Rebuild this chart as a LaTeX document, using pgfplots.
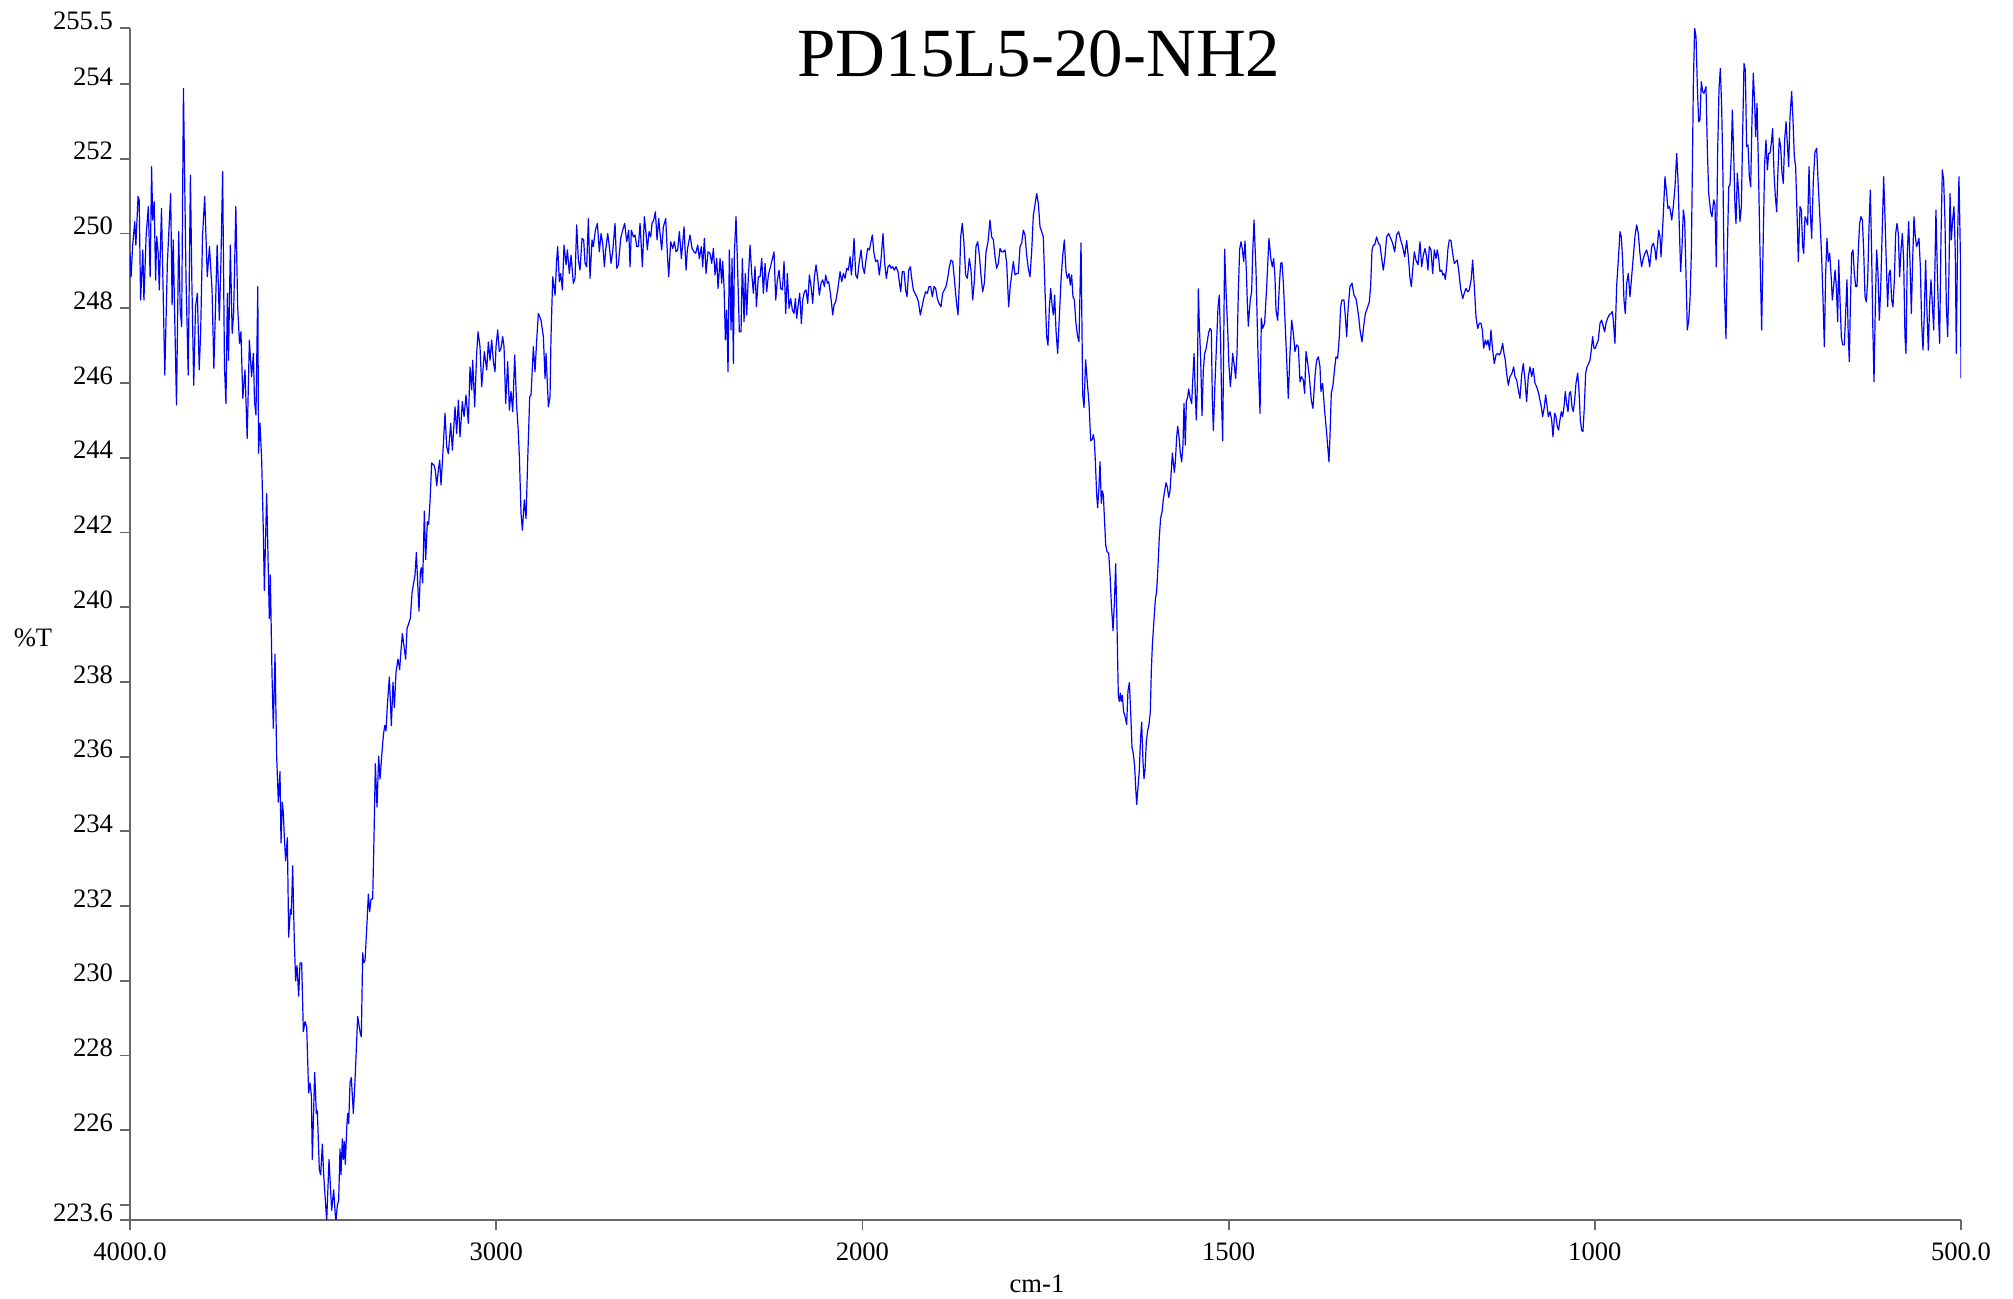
\documentclass[border=0pt]{standalone}
\usepackage{pgfplots}
\pgfplotsset{compat=1.18}
\usepackage{pgfplotstable}
\usepackage{fontspec}
\setmainfont{Liberation Serif}
\definecolor{axgray}{RGB}{105,105,105}

\pgfplotstableread[row sep=\\]{
wn T \\
4000 249.47 \\ 3997 248.84 \\ 3993 249.65 \\ 3987 250.32 \\ 3984 249.69 \\ 3978 250.99 \\ 3975 250.90 \\ 3971 248.22 \\ 3965 249.56 \\ 3962 248.22 \\
3956 249.92 \\ 3950 250.72 \\ 3945 248.84 \\ 3941 251.79 \\ 3938 250.36 \\ 3934 250.85 \\ 3930 248.75 \\ 3927 249.92 \\ 3923 249.47 \\ 3920 248.49 \\
3914 250.67 \\ 3905 246.21 \\ 3898 249.20 \\ 3889 251.07 \\ 3885 248.09 \\ 3882 249.83 \\ 3878 247.82 \\ 3873 245.41 \\ 3867 250.05 \\ 3863 247.99 \\
3859 247.51 \\ 3854 253.88 \\ 3847 248.75 \\ 3841 246.21 \\ 3835 251.56 \\ 3831 248.66 \\ 3826 245.94 \\ 3821 248.04 \\ 3816 248.40 \\ 3811 246.35 \\
3807 247.37 \\ 3802 249.92 \\ 3796 250.99 \\ 3789 248.84 \\ 3783 249.65 \\ 3776 248.49 \\ 3771 246.39 \\ 3762 249.69 \\ 3756 247.68 \\ 3752 249.11 \\
3747 251.66 \\ 3742 246.43 \\ 3738 245.45 \\ 3734 248.40 \\ 3731 246.61 \\ 3726 249.69 \\ 3721 247.33 \\ 3717 247.86 \\ 3711 250.72 \\ 3706 248.04 \\
3701 247.06 \\ 3697 247.37 \\ 3692 245.59 \\ 3686 246.35 \\ 3680 244.52 \\ 3674 247.15 \\ 3668 246.17 \\ 3663 246.79 \\ 3660 245.50 \\ 3656 245.14 \\
3651 248.58 \\ 3649 244.12 \\ 3645 244.92 \\
3640.4 243.93 \\ 3635.9 242.02 \\ 3633.1 240.45 \\ 3626.8 243.04 \\ 3619.5 239.70 \\ 3616.8 240.86 \\ 3612.2 238.20 \\ 3608.6 236.76 \\ 3604.0 238.74 \\ 3599.5 236.01 \\
3594.9 234.78 \\ 3590.4 235.60 \\ 3587.6 233.69 \\ 3584.0 234.78 \\ 3581.3 234.51 \\ 3578.5 233.83 \\ 3574.9 233.21 \\ 3570.3 233.83 \\ 3566.7 231.17 \\ 3562.1 231.91 \\
3559.4 231.78 \\ 3555.8 233.08 \\ 3551.2 231.03 \\ 3547.6 230.00 \\ 3543.9 230.41 \\ 3539.4 229.59 \\ 3535.7 230.48 \\ 3531.2 230.48 \\ 3526.6 228.64 \\ 3522.1 228.91 \\
3517.5 228.77 \\ 3512.1 227.00 \\ 3508.4 227.27 \\ 3504.8 226.93 \\ 3502.1 225.22 \\ 3495.7 227.55 \\ 3491.1 226.45 \\ 3488.4 226.52 \\ 3483.0 224.95 \\ 3479.3 224.81 \\
3474.7 225.63 \\ 3471.1 224.81 \\ 3466.6 224.13 \\ 3462.9 223.58 \\ 3456.5 225.22 \\ 3452.9 224.54 \\ 3449.3 223.86 \\ 3443.8 224.41 \\ 3439.3 223.72 \\ 3437.4 223.58 \\
3433.8 223.99 \\ 3430.2 224.13 \\ 3426.5 225.50 \\ 3423.8 224.81 \\ 3420.1 225.77 \\ 3417.4 225.22 \\ 3414.7 225.70 \\ 3412.0 225.09 \\ 3408.3 226.04 \\ 3405.6 226.45 \\
3402.8 226.18 \\ 3399.2 227.27 \\ 3395.6 227.41 \\ 3390.1 226.45 \\ 3384.6 227.54 \\ 3378.3 229.05 \\ 3371.9 228.64 \\ 3368.3 228.50 \\ 3364.6 230.75 \\ 3361.9 230.48 \\
3358.2 230.55 \\ 3353.7 231.37 \\ 3349.1 232.32 \\ 3345.5 231.85 \\ 3341.8 232.19 \\ 3337.3 232.19 \\ 3333.7 233.83 \\ 3330.0 235.81 \\ 3325.5 234.65 \\ 3320.9 236.01 \\
3317.3 235.40 \\ 3312.7 236.01 \\ 3308.2 236.56 \\ 3304.5 236.83 \\ 3300.9 236.69 \\ 3297.2 237.38 \\ 3291.8 238.13 \\ 3286.3 236.83 \\ 3281.8 237.99 \\ 3278.1 237.31 \\
3273.6 238.26 \\ 3268.1 238.61 \\ 3263.6 238.33 \\ 3260.8 238.74 \\ 3256.3 239.29 \\ 3251.7 238.95 \\ 3247.2 238.61 \\ 3243.5 239.43 \\ 3239.0 239.56 \\ 3234.4 239.70 \\
3229.9 240.38 \\ 3225.3 240.65 \\ 3221.7 240.86 \\ 3218.0 241.47 \\ 3214.4 240.65 \\ 3210.8 239.90 \\ 3207.1 240.93 \\ 3204.4 241.06 \\ 3200.8 240.65 \\ 3196.2 242.57 \\
3192.6 241.27 \\ 3188.0 242.29 \\ 3184.4 242.22 \\ 3180.7 242.84 \\ 3176.2 243.86 \\ 3169.8 243.80 \\ 3166.2 243.66 \\ 3162.5 243.25 \\ 3158.0 243.66 \\ 3154.3 243.93 \\
3150.7 243.27 \\ 3146.1 244.03 \\ 3139.7 245.19 \\ 3135.2 244.29 \\ 3130.6 244.11 \\ 3124.3 244.92 \\ 3119.7 244.20 \\ 3112.4 245.36 \\ 3107.9 244.65 \\ 3103.3 245.54 \\
3098.8 244.56 \\ 3092.4 245.50 \\ 3087.8 245.10 \\ 3082.4 245.68 \\ 3076.0 244.92 \\ 3071.5 246.43 \\ 3066.9 245.81 \\ 3064.2 246.61 \\ 3058.7 245.36 \\ 3053.3 246.79 \\
3049.6 247.37 \\ 3044.2 246.97 \\ 3039.6 245.90 \\ 3032.3 246.84 \\ 3025.9 246.35 \\ 3021.4 247.10 \\ 3016.8 246.61 \\ 3012.3 247.15 \\ 3007.7 246.57 \\ 3003.2 246.30 \\
3000.5 246.97 \\ 2995.9 247.42 \\ 2991.4 246.84 \\ 2986.8 246.93 \\ 2982.3 247.24 \\ 2978.6 246.97 \\ 2974.1 245.45 \\ 2968.6 246.57 \\ 2964.0 245.27 \\ 2959.5 245.77 \\
2954.9 245.23 \\ 2949.5 246.75 \\ 2944.0 245.36 \\ 2940.4 244.83 \\ 2936.7 244.03 \\ 2932.2 242.51 \\ 2928.5 242.06 \\ 2923.1 242.87 \\ 2918.5 242.37 \\ 2914.0 243.94 \\
2908.5 245.63 \\ 2904.9 245.68 \\ 2898.5 246.97 \\ 2894.0 246.30 \\ 2889.4 247.15 \\ 2884.9 247.86 \\ 2877.6 247.68 \\ 2871.2 247.24 \\ 2866.6 246.12 \\ 2863.9 246.79 \\
2857.5 245.36 \\ 2853.0 245.63 \\ 2850.3 247.24 \\ 2845.7 248.84 \\ 2839.3 248.35 \\ 2834.8 249.29 \\ 2832.1 249.65 \\ 2827.5 248.71 \\ 2823.9 248.93 \\ 2819.3 248.49 \\
2814.8 249.69 \\ 2809.3 249.16 \\ 2805.6 249.56 \\ 2800.2 248.93 \\ 2795.6 249.42 \\ 2789.3 248.67 \\ 2784.7 248.80 \\ 2780.2 250.23 \\ 2775.6 249.29 \\ 2771.1 249.02 \\
2765.6 249.87 \\ 2761.1 249.83 \\ 2757.4 249.20 \\ 2752.9 249.11 \\ 2748.3 250.40 \\ 2743.8 248.80 \\ 2738.3 249.83 \\ 2734.7 249.65 \\ 2729.2 250.09 \\ 2723.7 250.27 \\
2718.3 249.51 \\ 2713.7 250.00 \\ 2709.2 249.74 \\ 2704.6 249.11 \\ 2701.0 249.56 \\ 2695.5 250.00 \\ 2691.0 249.65 \\ 2686.4 249.20 \\ 2681.9 249.51 \\ 2675.5 250.27 \\
2670.9 249.07 \\ 2666.4 249.16 \\ 2660.0 249.87 \\ 2654.6 250.09 \\ 2649.1 250.27 \\ 2643.6 249.78 \\ 2638.2 250.09 \\ 2634.5 249.11 \\ 2630.9 250.09 \\ 2625.4 249.91 \\
2620.9 249.96 \\ 2616.3 249.65 \\ 2611.8 249.65 \\ 2607.2 250.27 \\ 2600.8 249.11 \\ 2595.4 250.45 \\ 2590.8 250.00 \\ 2587.2 249.56 \\ 2582.6 250.05 \\ 2578.1 249.91 \\
2574.4 250.27 \\ 2569.9 250.36 \\ 2565.3 250.58 \\ 2560.8 249.83 \\ 2556.2 250.40 \\ 2552.6 250.00 \\ 2548.1 249.56 \\ 2543.5 250.18 \\ 2537.1 250.40 \\ 2532.6 249.47 \\
2528.9 248.84 \\ 2523.5 249.78 \\ 2518.0 249.60 \\ 2513.5 249.78 \\ 2508.9 249.51 \\ 2504.4 249.56 \\ 2499.8 250.05 \\ 2494.3 249.33 \\ 2490.7 249.74 \\ 2487.1 250.18 \\
2481.6 249.02 \\ 2478.0 249.56 \\ 2470.7 249.96 \\ 2465.2 249.60 \\ 2459.7 249.51 \\ 2455.2 249.47 \\ 2449.7 249.69 \\ 2445.2 249.33 \\ 2439.7 249.65 \\ 2436.1 249.11 \\
2431.5 249.87 \\ 2427.0 248.93 \\ 2421.5 249.51 \\ 2416.0 249.47 \\ 2411.5 249.20 \\ 2406.9 249.60 \\ 2402.4 248.89 \\ 2397.8 249.33 \\ 2394.2 248.53 \\ 2388.7 249.33 \\
2384.2 248.67 \\ 2381.5 249.25 \\ 2377.8 248.59 \\ 2374.2 247.15 \\ 2370.5 247.95 \\ 2366.9 246.30 \\ 2363.3 249.56 \\ 2358.7 247.42 \\ 2356.0 249.33 \\ 2352.3 246.52 \\
2349.6 249.47 \\ 2345.1 250.45 \\ 2341.4 249.29 \\ 2336.0 247.37 \\ 2331.4 247.37 \\ 2327.8 249.33 \\ 2323.2 247.64 \\ 2319.6 248.93 \\ 2316.0 247.82 \\ 2311.4 248.84 \\
2306.8 249.69 \\ 2302.3 248.93 \\ 2297.7 248.40 \\ 2293.2 249.11 \\ 2289.5 248.04 \\ 2284.1 248.84 \\ 2279.5 248.84 \\ 2274.9 249.33 \\ 2270.4 248.40 \\ 2265.8 249.20 \\
2261.3 248.44 \\ 2256.7 248.89 \\
2247.6 249.25 \\ 2241.3 249.51 \\ 2236.7 248.22 \\ 2232.2 248.75 \\ 2227.6 249.02 \\ 2223.1 248.53 \\ 2218.5 248.49 \\ 2214.0 249.25 \\ 2209.4 247.86 \\ 2204.9 248.93 \\
2200.3 248.00 \\ 2195.8 248.26 \\ 2191.2 247.95 \\ 2186.7 247.86 \\ 2183.0 248.26 \\ 2179.4 247.73 \\ 2174.8 248.13 \\ 2171.2 248.40 \\ 2166.6 247.59 \\ 2163.0 248.22 \\
2158.4 248.44 \\ 2153.9 248.49 \\ 2149.3 248.13 \\ 2144.8 248.89 \\ 2140.2 248.58 \\ 2135.7 248.13 \\ 2131.1 248.84 \\ 2126.6 249.16 \\ 2122.0 248.80 \\ 2117.5 248.35 \\
2112.9 248.67 \\ 2108.4 248.76 \\ 2103.8 248.58 \\ 2100.2 248.89 \\ 2095.6 248.67 \\ 2092.0 248.71 \\ 2087.4 248.40 \\ 2083.8 248.09 \\ 2081.1 247.82 \\ 2077.4 248.09 \\
2072.9 248.18 \\ 2067.4 248.49 \\ 2061.0 248.98 \\ 2056.5 248.71 \\ 2051.9 248.93 \\ 2047.4 248.80 \\ 2042.8 249.07 \\ 2038.3 249.02 \\ 2033.7 249.38 \\ 2030.1 248.89 \\
2026.4 249.29 \\ 2022.8 249.87 \\ 2018.2 248.89 \\ 2013.7 248.80 \\ 2009.1 249.20 \\ 2003.7 249.56 \\ 1999.6 249.11 \\ 1997.3 248.93 \\ 1995.1 249.29 \\ 1992.8 249.60 \\
1990.5 249.56 \\ 1988.3 249.78 \\ 1986.4 249.96 \\ 1984.2 249.47 \\ 1981.9 249.25 \\ 1979.2 249.29 \\ 1976.9 248.89 \\ 1974.6 249.29 \\ 1971.9 250.00 \\ 1969.6 249.20 \\
1967.3 248.80 \\ 1965.0 249.11 \\ 1962.8 249.16 \\ 1960.9 249.07 \\ 1958.7 249.11 \\ 1956.4 249.02 \\ 1954.1 249.11 \\ 1951.4 248.98 \\ 1949.6 248.71 \\ 1947.7 248.44 \\
1945.5 248.98 \\ 1943.2 248.98 \\ 1940.9 248.49 \\ 1939.1 248.31 \\ 1936.8 249.02 \\ 1934.5 249.11 \\ 1932.7 248.80 \\ 1930.4 248.49 \\ 1928.2 248.40 \\ 1925.9 248.31 \\
1923.6 248.18 \\ 1920.9 247.82 \\ 1918.6 248.04 \\ 1916.3 248.26 \\ 1913.6 248.44 \\ 1911.3 248.40 \\ 1909.1 248.58 \\ 1906.8 248.58 \\ 1904.5 248.31 \\ 1902.2 248.58 \\
1900.0 248.53 \\ 1897.7 248.26 \\ 1895.4 248.13 \\ 1892.7 248.04 \\ 1890.4 248.40 \\ 1888.1 248.49 \\ 1885.9 248.58 \\ 1883.6 248.80 \\ 1881.3 249.11 \\ 1879.0 249.29 \\
1876.7 249.25 \\ 1874.5 248.80 \\ 1871.7 248.18 \\ 1869.5 247.82 \\ 1867.6 248.67 \\ 1865.8 249.91 \\ 1863.6 250.27 \\ 1861.3 249.74 \\ 1859.0 248.89 \\ 1856.7 248.80 \\
1854.0 249.33 \\ 1851.7 249.02 \\ 1849.4 248.22 \\ 1847.2 248.71 \\ 1844.9 249.65 \\ 1842.6 249.78 \\ 1840.3 249.42 \\ 1838.1 248.89 \\ 1835.8 248.44 \\ 1833.5 248.67 \\
1831.2 249.51 \\ 1828.5 249.78 \\ 1825.8 250.36 \\ 1823.5 249.91 \\ 1821.2 249.83 \\ 1818.9 249.38 \\ 1816.7 249.07 \\ 1814.4 249.20 \\ 1812.1 249.60 \\ 1809.9 249.51 \\
1807.6 249.51 \\ 1805.3 249.56 \\ 1803.0 249.20 \\ 1800.3 248.04 \\ 1798.0 248.62 \\ 1796.2 248.89 \\ 1793.9 249.25 \\ 1791.6 248.89 \\ 1789.4 248.93 \\ 1787.1 248.93 \\
1784.8 249.65 \\ 1782.5 249.74 \\ 1780.3 250.09 \\ 1778.0 249.96 \\ 1775.7 249.42 \\ 1773.5 249.07 \\ 1771.2 248.84 \\ 1768.9 249.51 \\ 1766.6 250.49 \\ 1764.4 250.76 \\
1762.1 251.07 \\ 1759.8 250.81 \\ 1757.5 250.18 \\ 1755.2 250.05 \\ 1753.0 249.91 \\ 1750.7 248.49 \\ 1748.4 247.24 \\ 1746.6 247.01 \\ 1744.8 248.00 \\ 1742.9 248.53 \\
1741.1 248.09 \\ 1739.3 247.82 \\ 1737.5 248.35 \\ 1735.7 247.42 \\ 1733.4 246.79 \\ 1731.1 247.77 \\ 1728.8 248.76 \\ 1726.6 249.38 \\ 1724.3 249.83 \\ 1722.0 248.98 \\
1720.2 248.80 \\ 1717.9 248.93 \\ 1716.1 248.62 \\ 1714.3 248.89 \\ 1712.5 248.31 \\ 1710.6 248.22 \\ 1708.4 247.59 \\ 1706.1 247.24 \\ 1704.3 247.11 \\
1701.5 249.75 \\ 1699.2 245.68 \\ 1697.4 245.34 \\ 1695.2 246.62 \\ 1692.9 246.01 \\ 1690.6 245.45 \\ 1688.3 244.45 \\ 1686.0 244.50 \\ 1684.7 244.62 \\ 1683.3 244.45 \\
1681.9 243.89 \\ 1680.1 243.00 \\ 1678.8 242.66 \\ 1677.0 243.22 \\ 1675.6 243.89 \\ 1673.8 242.78 \\ 1672.4 243.11 \\ 1671.0 243.00 \\ 1669.7 242.44 \\ 1667.8 241.66 \\
1666.0 241.49 \\ 1663.7 241.44 \\ 1661.9 240.88 \\ 1660.1 240.10 \\ 1657.8 239.37 \\ 1656.0 240.10 \\ 1654.2 241.16 \\ 1652.4 239.54 \\ 1650.6 237.64 \\ 1649.2 237.48 \\
1647.8 237.70 \\ 1646.5 237.48 \\ 1645.1 237.64 \\ 1643.3 237.20 \\ 1641.5 237.09 \\ 1639.2 236.86 \\ 1637.4 237.76 \\ 1635.5 237.98 \\ 1633.7 237.20 \\ 1631.9 236.25 \\
1630.1 236.08 \\ 1628.3 235.75 \\ 1626.9 235.19 \\ 1625.5 234.72 \\ 1623.7 235.19 \\ 1621.9 235.64 \\ 1620.1 236.53 \\ 1618.7 236.92 \\ 1616.9 235.86 \\ 1615.5 235.41 \\
1614.1 235.64 \\ 1612.3 236.42 \\ 1610.5 236.70 \\ 1608.7 236.86 \\ 1606.9 237.20 \\ 1605.5 238.31 \\ 1604.1 238.98 \\ 1602.3 239.54 \\ 1600.0 240.21 \\ 1598.2 240.43 \\
1596.4 241.10 \\ 1594.6 241.88 \\ 1592.8 242.39 \\ 1590.9 242.55 \\ 1589.1 242.89 \\ 1587.3 243.11 \\ 1585.5 243.33 \\ 1583.7 243.22 \\ 1581.8 242.94 \\ 1580.0 243.11 \\
1578.2 243.67 \\ 1576.8 244.12 \\ 1575.5 243.89 \\ 1574.1 243.61 \\ 1572.7 243.89 \\ 1570.9 244.56 \\ 1569.5 244.84 \\ 1567.7 244.56 \\ 1565.9 244.12 \\ 1564.1 243.89 \\
1562.3 244.34 \\ 1560.9 245.45 \\ 1559.1 244.34 \\ 1557.7 245.51 \\ 1555.9 245.62 \\ 1554.5 245.84 \\ 1552.7 245.62 \\ 1550.4 245.45 \\ 1548.6 246.23 \\ 1547.2 246.79 \\
1545.4 245.68 \\ 1544.1 245.01 \\ 1542.7 245.90 \\ 1541.3 248.52 \\ 1540.0 247.57 \\ 1538.2 246.68 \\ 1536.3 245.12 \\ 1534.5 246.35 \\ 1532.7 246.79 \\ 1530.9 246.90 \\
1529.0 247.13 \\ 1527.2 247.35 \\ 1525.4 247.46 \\ 1523.6 247.40 \\ 1522.2 245.56 \\ 1520.8 244.73 \\ 1518.6 246.01 \\ 1516.3 247.13 \\ 1514.5 248.02 \\ 1512.7 248.35 \\
1510.8 247.01 \\ 1509.5 245.45 \\ 1508.1 244.45 \\ 1506.7 247.01 \\ 1505.4 249.58 \\ 1503.5 248.46 \\ 1501.3 247.46 \\ 1499.5 246.46 \\ 1497.6 245.90 \\ 1495.8 246.35 \\
1494.5 246.79 \\ 1492.2 246.46 \\ 1490.4 246.12 \\ 1488.5 246.79 \\ 1486.7 248.46 \\ 1484.9 249.58 \\ 1483.1 249.78 \\ 1481.3 249.58 \\ 1479.4 249.25 \\ 1477.6 249.80 \\
1475.8 249.02 \\ 1474.4 248.13 \\ 1473.1 247.52 \\ 1471.7 247.91 \\ 1470.3 248.24 \\ 1468.5 248.46 \\ 1467.1 249.47 \\ 1465.3 250.36 \\
1462.6 249.02 \\ 1459.9 246.79 \\ 1457.1 245.19 \\ 1455.3 247.73 \\ 1453.5 247.46 \\ 1450.8 247.60 \\ 1448.0 248.58 \\ 1444.9 249.87 \\ 1442.1 249.29 \\ 1440.3 249.11 \\
1438.5 249.33 \\ 1436.7 248.84 \\ 1435.3 247.95 \\ 1433.0 247.68 \\ 1430.8 248.58 \\ 1428.9 249.20 \\ 1427.1 249.22 \\ 1425.3 248.71 \\ 1423.0 247.68 \\ 1420.7 246.61 \\
1418.5 245.59 \\ 1416.2 246.79 \\ 1413.9 247.68 \\ 1411.6 247.33 \\ 1409.4 246.84 \\ 1407.1 247.02 \\ 1404.8 246.97 \\ 1402.5 246.03 \\ 1400.3 246.17 \\ 1398.0 246.08 \\
1396.2 245.72 \\ 1394.3 246.84 \\ 1392.5 246.61 \\ 1389.8 246.17 \\ 1387.1 245.54 \\ 1384.8 245.32 \\ 1382.1 246.17 \\ 1379.8 246.61 \\ 1377.5 246.70 \\ 1375.2 246.43 \\
1373.9 245.77 \\ 1371.6 245.99 \\ 1369.3 245.36 \\ 1366.1 244.65 \\ 1363.0 243.89 \\ 1361.6 244.56 \\ 1359.8 245.72 \\ 1357.5 245.94 \\ 1355.2 246.39 \\ 1353.4 246.70 \\
1351.1 246.66 \\ 1348.8 247.24 \\ 1347.0 248.04 \\ 1345.2 248.22 \\ 1342.5 248.22 \\ 1340.2 247.68 \\ 1338.8 247.24 \\ 1337.0 247.95 \\ 1334.3 248.58 \\ 1331.5 248.67 \\
1328.8 248.35 \\ 1326.1 248.26 \\ 1324.3 248.04 \\ 1322.4 247.77 \\ 1320.6 247.42 \\ 1317.9 247.10 \\ 1315.6 247.51 \\ 1313.3 247.86 \\ 1310.6 248.00 \\ 1307.9 248.17 \\
1306.1 248.58 \\ 1304.2 249.56 \\ 1302.4 249.69 \\ 1300.6 249.69 \\ 1297.9 249.91 \\ 1295.6 249.74 \\ 1293.3 249.69 \\ 1291.0 249.33 \\ 1288.8 249.02 \\ 1286.5 249.38 \\
1284.2 249.91 \\ 1281.5 250.00 \\ 1278.7 249.87 \\ 1276.0 249.74 \\ 1273.3 249.51 \\ 1270.6 249.96 \\ 1267.8 250.05 \\ 1265.1 249.83 \\ 1262.4 249.65 \\ 1259.6 249.38 \\
1256.9 249.81 \\ 1254.6 249.38 \\ 1252.3 248.80 \\ 1250.5 248.58 \\ 1248.7 249.02 \\ 1246.4 249.51 \\ 1244.2 249.29 \\ 1241.4 249.16 \\ 1238.7 249.78 \\ 1236.4 249.11 \\
1234.1 249.42 \\ 1231.9 249.60 \\ 1229.6 249.38 \\ 1227.8 249.02 \\ 1226.0 249.65 \\ 1223.7 249.56 \\ 1221.4 248.93 \\ 1219.1 249.56 \\ 1216.8 249.33 \\ 1215.0 249.56 \\
1213.2 249.33 \\ 1211.4 248.98 \\ 1209.1 249.02 \\ 1207.7 248.89 \\ 1205.9 248.93 \\ 1204.1 248.77 \\ 1202.3 249.11 \\ 1200.5 249.60 \\ 1198.6 249.83 \\ 1196.4 249.81 \\
1194.1 249.47 \\ 1191.8 249.20 \\ 1189.5 249.25 \\ 1187.7 249.29 \\ 1185.4 248.93 \\ 1183.2 248.53 \\ 1180.4 248.26 \\ 1178.2 248.40 \\ 1175.9 248.53 \\ 1173.6 248.44 \\
1171.3 248.49 \\ 1168.6 248.80 \\ 1166.8 249.29 \\ 1164.5 248.58 \\ 1162.2 247.77 \\ 1159.9 247.46 \\ 1157.7 247.60 \\ 1155.4 247.60 \\ 1153.6 247.42 \\ 1151.8 246.93 \\
1149.5 247.15 \\ 1147.7 247.02 \\ 1145.9 247.15 \\ 1143.6 246.88 \\ 1141.8 247.42 \\ 1139.5 246.88 \\ 1137.2 246.52 \\ 1134.9 246.75 \\ 1132.7 246.79 \\ 1129.9 246.75 \\
1127.7 246.88 \\ 1125.8 247.06 \\ 1124.0 246.79 \\ 1122.2 246.61 \\ 1120.4 246.26 \\ 1118.1 245.94 \\ 1115.8 246.17 \\ 1113.1 246.26 \\ 1110.8 246.43 \\ 1109.0 246.17 \\
1106.7 246.08 \\ 1104.4 245.81 \\ 1102.2 245.59 \\ 1099.9 246.21 \\ 1097.6 246.52 \\ 1095.3 246.08 \\ 1093.1 245.50 \\ 1090.8 246.17 \\ 1088.5 246.43 \\ 1086.2 246.17 \\
1084.0 246.39 \\ 1081.7 245.99 \\ 1079.4 245.90 \\ 1076.7 245.72 \\ 1074.9 245.54 \\ 1073.0 245.36 \\ 1071.2 245.10 \\ 1068.9 245.36 \\ 1067.1 245.68 \\ 1065.3 245.41 \\
1063.5 245.10 \\ 1061.2 245.23 \\ 1058.9 245.01 \\ 1057.1 244.56 \\ 1054.8 245.19 \\ 1053.0 245.10 \\ 1051.2 244.83 \\ 1049.4 244.74 \\ 1047.6 245.01 \\ 1045.7 245.23 \\
1043.9 245.10 \\ 1042.1 245.36 \\ 1040.3 245.77 \\ 1038.5 245.45 \\ 1036.6 245.23 \\ 1034.8 245.72 \\ 1033.0 245.77 \\ 1031.2 245.36 \\ 1029.4 245.23 \\ 1027.5 245.54 \\
1025.7 245.99 \\ 1023.4 246.26 \\ 1021.6 245.81 \\ 1019.8 245.01 \\ 1018.0 244.74 \\ 1016.2 244.70 \\ 1014.3 245.36 \\ 1012.5 246.26 \\ 1010.7 246.43 \\ 1008.4 246.52 \\
1006.6 246.61 \\ 1004.8 246.88 \\ 1003.0 247.24 \\ 1001.1 246.93 \\ 999.3 246.93 \\ 997.0 247.06 \\ 995.2 247.15 \\ 992.9 247.60 \\ 990.7 247.68 \\ 988.4 247.51 \\
986.6 247.37 \\ 984.7 247.60 \\ 982.5 247.73 \\ 980.2 247.82 \\ 977.9 247.86 \\ 976.1 247.91 \\ 974.7 247.68 \\ 972.5 247.06 \\ 970.2 248.58 \\ 967.9 249.29 \\
965.6 250.05 \\ 963.8 249.91 \\ 962.0 249.29 \\ 960.2 248.22 \\ 958.4 247.86 \\ 956.5 248.67 \\ 954.3 248.93 \\ 952.0 248.31 \\ 949.7 248.84 \\ 947.4 249.38 \\
945.2 249.91 \\ 942.9 250.23 \\ 940.6 250.00 \\ 938.4 249.47 \\ 936.1 249.11 \\ 933.8 249.33 \\ 931.5 249.47 \\ 929.3 249.56 \\ 927.0 249.38 \\ 925.1 249.11 \\
922.3 249.65 \\ 920.1 249.74 \\ 917.8 249.56 \\ 916.4 249.29 \\ 914.6 249.65 \\ 912.8 250.09 \\ 911.0 249.92 \\ 909.6 249.38 \\ 907.8 250.00 \\ 906.4 250.54 \\
904.2 251.52 \\ 901.9 251.07 \\ 900.1 250.67 \\ 898.2 250.72 \\ 896.9 250.63 \\ 895.0 250.36 \\ 892.8 250.72 \\ 890.5 251.25 \\ 888.2 252.14 \\ 886.4 251.43 \\
884.6 250.18 \\ 882.8 248.98 \\ 880.9 249.65 \\ 879.1 250.63 \\ 877.3 250.36 \\ 875.5 248.93 \\ 873.7 247.42 \\ 871.8 247.68 \\ 870.0 248.22 \\ 868.2 249.47 \\
866.8 251.70 \\ 865.5 253.93 \\ 863.7 255.49 \\ 861.8 255.27 \\ 860.0 253.93 \\ 858.2 252.99 \\ 856.4 253.04 \\ 854.6 254.06 \\ 852.7 253.80 \\ 850.9 253.75 \\
848.2 253.93 \\ 846.4 252.32 \\ 844.5 251.07 \\ 841.8 250.58 \\ 840.0 250.45 \\ 837.7 250.90 \\ 835.9 250.76 \\ 834.1 249.11 \\ 832.3 252.15 \\ 830.4 253.88 \\
828.6 254.42 \\ 826.8 253.39 \\ 825.0 251.52 \\ 823.2 248.58 \\ 820.9 247.19 \\ 819.1 249.47 \\ 817.2 251.25 \\ 815.4 251.30 \\ 813.6 252.14 \\ 812.2 253.30 \\
810.4 252.14 \\ 808.6 250.72 \\ 807.2 250.27 \\ 805.4 251.61 \\ 803.6 251.07 \\ 801.8 250.32 \\ 799.9 250.72 \\ 798.1 252.68 \\ 796.3 254.55 \\ 794.5 254.38 \\
792.7 252.32 \\ 790.8 252.37 \\ 789.0 251.52 \\ 787.2 251.25 \\ 785.4 253.04 \\ 783.6 254.29 \\ 781.7 253.48 \\ 780.4 252.59 \\ 778.5 253.48 \\ 776.7 251.88 \\
774.5 249.56 \\ 772.2 247.42 \\ 770.4 249.47 \\ 768.1 251.88 \\ 766.3 252.50 \\ 764.4 251.70 \\ 762.6 252.15 \\ 760.8 252.15 \\ 759.0 252.41 \\ 757.2 252.81 \\
755.3 251.61 \\ 753.5 250.99 \\ 751.7 250.58 \\ 749.9 251.70 \\ 748.1 252.55 \\ 746.2 252.32 \\ 744.4 251.61 \\ 742.6 251.34 \\ 740.8 252.50 \\ 738.9 252.99 \\
737.1 252.41 \\ 735.3 251.79 \\ 733.5 253.13 \\ 731.2 253.80 \\ 729.4 253.04 \\ 727.6 252.06 \\ 725.8 251.79 \\ 723.9 250.54 \\ 722.1 249.25 \\ 719.8 250.72 \\
718.0 250.63 \\ 716.2 249.65 \\ 714.8 249.47 \\ 713.0 250.45 \\ 711.2 250.36 \\ 709.4 250.23 \\ 707.5 251.79 \\ 705.7 250.54 \\ 703.9 249.87 \\ 701.6 251.43 \\
699.4 252.19 \\ 697.1 252.28 \\ 694.8 251.25 \\ 692.5 250.36 \\ 690.3 249.38 \\ 688.4 248.22 \\ 686.6 246.97 \\ 684.8 248.93 \\ 683.0 249.87 \\ 681.2 249.25 \\
679.3 249.47 \\ 677.5 248.93 \\ 675.7 248.22 \\ 673.9 248.58 \\ 672.0 249.02 \\ 670.2 248.58 \\ 668.4 247.64 \\ 667.0 249.29 \\ 665.2 248.22 \\ 663.4 247.24 \\
661.6 247.02 \\ 659.3 247.02 \\ 657.5 247.86 \\ 655.7 248.76 \\ 653.9 247.24 \\ 652.5 246.57 \\ 651.1 248.04 \\ 649.3 249.47 \\ 647.5 249.56 \\ 645.7 248.93 \\
643.8 248.58 \\ 642.0 248.58 \\ 640.2 249.56 \\ 638.4 250.27 \\ 636.6 250.45 \\ 634.7 250.36 \\ 632.9 249.56 \\ 631.1 248.31 \\ 629.3 248.17 \\ 627.4 248.76 \\
625.6 250.18 \\ 623.8 251.16 \\ 622.0 249.47 \\ 620.6 247.68 \\ 618.8 246.03 \\ 617.0 248.04 \\ 615.2 249.56 \\ 613.3 248.93 \\ 611.5 247.68 \\ 609.7 248.49 \\
607.9 249.83 \\ 605.6 251.52 \\ 603.8 250.45 \\ 602.0 249.20 \\ 600.2 248.04 \\ 598.3 248.93 \\ 596.5 249.02 \\ 594.7 248.22 \\ 592.9 248.04 \\ 591.0 248.76 \\
589.2 250.00 \\ 587.4 250.27 \\ 585.6 250.00 \\ 583.8 248.84 \\ 581.9 249.56 \\ 580.1 250.00 \\ 578.3 249.29 \\ 576.5 247.24 \\ 575.1 246.79 \\ 573.3 249.47 \\
571.5 250.32 \\ 569.6 249.20 \\ 567.8 247.86 \\ 566.0 249.29 \\ 564.2 250.45 \\ 562.4 249.92 \\ 560.6 249.65 \\ 559.2 249.74 \\ 557.4 249.87 \\ 555.5 249.11 \\
553.7 247.60 \\ 551.9 246.88 \\ 550.1 247.86 \\ 548.3 249.29 \\ 546.4 247.86 \\ 544.6 246.88 \\ 542.8 248.13 \\ 541.0 248.76 \\ 539.2 248.13 \\ 537.3 247.42 \\
535.5 249.20 \\ 534.2 250.63 \\ 532.3 248.93 \\ 530.5 247.68 \\ 529.2 247.06 \\ 527.3 249.92 \\ 525.5 251.70 \\ 523.7 251.43 \\ 521.9 250.36 \\ 520.0 248.04 \\
518.2 247.24 \\ 516.4 249.02 \\ 515.0 251.07 \\ 513.2 249.83 \\ 511.4 250.36 \\ 509.6 250.72 \\ 507.8 249.47 \\ 506.4 246.79 \\ 504.6 249.92 \\ 502.8 251.52 \\
500.9 249.47 \\ 500.0 246.12 \\
}\spec

\begin{document}
\begin{tikzpicture}
\path[use as bounding box] (-65pt,-39.5pt) rectangle (941.5pt,610pt);
\begin{axis}[
  at={(0pt,0pt)}, anchor=south west,
  scale only axis, width=915.5pt, height=596pt,
  xmin=0, xmax=5, ymin=223.6, ymax=255.5,
  axis x line*=bottom, axis y line*=left,
  axis line style={draw=axgray, line width=0.9pt},
  x axis line style={-}, y axis line style={-},
  tick style={draw=axgray, line width=0.9pt},
  tick align=outside, major tick length=5pt,
  xtick={0,1,2,3,4,5},
  xticklabels={4000.0,3000,2000,1500,1000,500.0},
  ytick={223.6,224,226,228,230,232,234,236,238,240,242,244,246,248,250,252,254,255.5},
  yticklabels={223.6,,226,228,230,232,234,236,238,240,242,244,246,248,250,252,254,255.5},
  ticklabel style={font=\fontsize{13.3}{15}\selectfont, text=black},
  yticklabel style={yshift=3.8pt},
  xticklabel style={yshift=-3pt},
  clip=true,
]
\addplot[color=blue, line width=0.6pt, line join=round, no markers]
  table[x expr={(4000-\thisrow{wn})/1000+max(0,2000-\thisrow{wn})/1000}, y=T] {\spec};
\end{axis}
\node[font=\fontsize{34.5}{38}\selectfont] at (454.5pt,583pt) {PD15L5-20-NH2};
\node[font=\fontsize{13.3}{15}\selectfont] at (-48.5pt,291pt) {\%T};
\node[font=\fontsize{13.3}{15}\selectfont] at (453.5pt,-32pt) {cm-1};
\end{tikzpicture}
\end{document}
